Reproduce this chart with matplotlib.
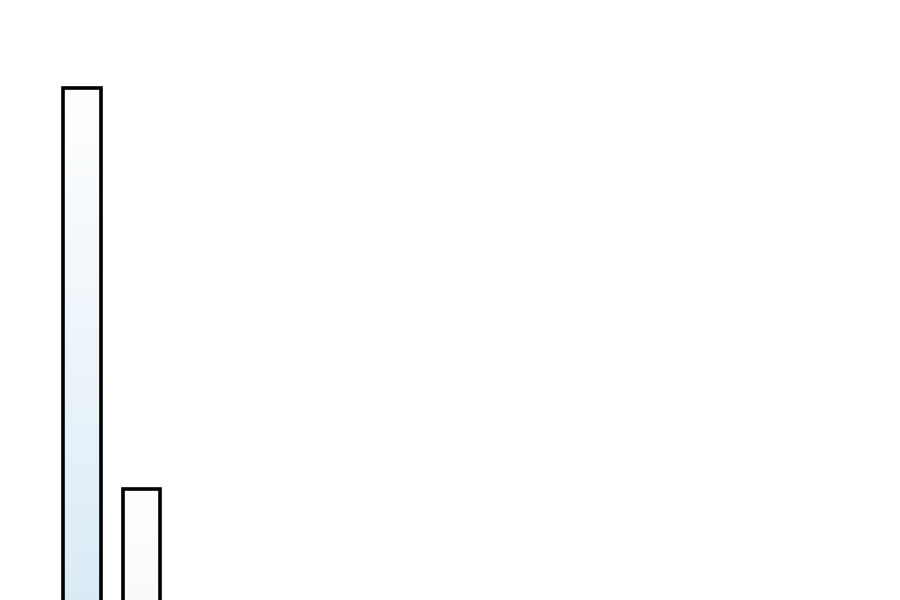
import numpy as np
import matplotlib
matplotlib.use("Agg")
import matplotlib.pyplot as plt
from matplotlib.colors import LinearSegmentedColormap

# Bar data (only two bars visible, bottoms cut off by the frame)
categories = ["A", "B"]
values = [86, 22.5]

# bottom colour of each bar's vertical gradient (top is white)
bottom_colors = ["#d9eaf6", "#f6f9fb"]

fig = plt.figure(figsize=(9, 6), dpi=100)
ax = fig.add_axes([0, 0, 1, 1])
ax.axis("off")

x = np.arange(len(categories))
bars = ax.bar(x, values, width=0.63, color="none", edgecolor="black",
              linewidth=2.6, zorder=3)

grad = np.linspace(0, 1, 256).reshape(-1, 1)
for bar, c in zip(bars, bottom_colors):
    cmap = LinearSegmentedColormap.from_list("g", [c, "white"])
    x0, y0 = bar.get_x(), bar.get_y()
    w, h = bar.get_width(), bar.get_height()
    im = ax.imshow(grad, cmap=cmap, aspect="auto", origin="lower",
                   extent=[x0, x0 + w, y0, y0 + h], zorder=2)
    im.set_clip_path(bar)

ax.set_xlim(-1.378, 13.748)
ax.set_ylim(5, 100)

fig.savefig("out.png", dpi=100)
